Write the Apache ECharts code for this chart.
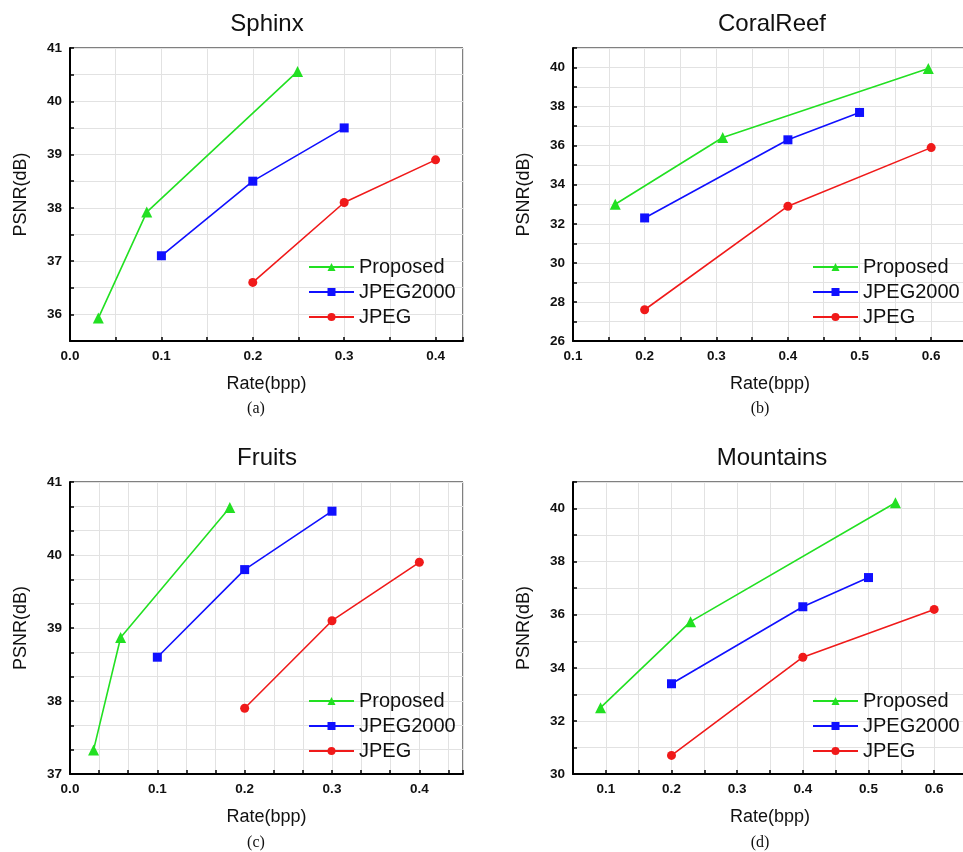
<!DOCTYPE html>
<html>
<head>
<meta charset="utf-8">
<script src="https://cdn.jsdelivr.net/npm/echarts@6/dist/echarts.min.js"></script>
<style>
html,body{margin:0;padding:0;background:#fff;}
#chart{width:963px;height:852px;}
</style>
</head>
<body>
<div id="chart"></div>
<script>
// ---- Data ----
const panelTitles = ['Sphinx', 'CoralReef', 'Fruits', 'Mountains'];
const panelCaptions = ['(a)', '(b)', '(c)', '(d)'];
const seriesNames = ['Proposed', 'JPEG2000', 'JPEG'];

const sphinxProposed = [[0.031, 35.93], [0.084, 37.92], [0.249, 40.56]];
const sphinxJPEG2000 = [[0.1, 37.1], [0.2, 38.5], [0.3, 39.5]];
const sphinxJPEG = [[0.2, 36.6], [0.3, 38.1], [0.4, 38.9]];

const coralProposed = [[0.159, 33.0], [0.309, 36.42], [0.596, 39.95]];
const coralJPEG2000 = [[0.2, 32.3], [0.4, 36.3], [0.5, 37.7]];
const coralJPEG = [[0.2, 27.6], [0.4, 32.9], [0.6, 35.9]];

const fruitsProposed = [[0.027, 37.33], [0.058, 38.87], [0.183, 40.65]];
const fruitsJPEG2000 = [[0.1, 38.6], [0.2, 39.8], [0.3, 40.6]];
const fruitsJPEG = [[0.2, 37.9], [0.3, 39.1], [0.4, 39.9]];

const mountainsProposed = [[0.092, 32.5], [0.229, 35.74], [0.541, 40.22]];
const mountainsJPEG2000 = [[0.2, 33.4], [0.4, 36.3], [0.5, 37.4]];
const mountainsJPEG = [[0.2, 30.7], [0.4, 34.4], [0.6, 36.2]];

// axis ranges: [min, max, gridStep, labelStep]
const xRanges = [[0, 0.43, 0.05, 0.1], [0.1, 0.65, 0.05, 0.1], [0, 0.45, 0.1 / 3, 0.1], [0.05, 0.65, 0.05, 0.1]];
const yRanges = [[35.5, 41, 0.5, 1], [26, 41, 1, 2], [37, 41, 1 / 3, 1], [30, 41, 1, 2]];

const panelData = [
  [sphinxProposed, sphinxJPEG2000, sphinxJPEG],
  [coralProposed, coralJPEG2000, coralJPEG],
  [fruitsProposed, fruitsJPEG2000, fruitsJPEG],
  [mountainsProposed, mountainsJPEG2000, mountainsJPEG]
];

// ---- Styles / layout ----
const colors = ['#22e022', '#1010ff', '#f01a1a'];
const symbols = ['triangle', 'rect', 'circle'];
const symbolSizes = [11, 9, 9];
const grids = [
  { left: 70, top: 48, width: 393, height: 293 },
  { left: 573, top: 48, width: 394, height: 293 },
  { left: 70, top: 482, width: 393, height: 292 },
  { left: 573, top: 482, width: 394, height: 292 }
];
const sans = '"Liberation Sans", Arial, sans-serif';
const serif = '"Liberation Serif", "Times New Roman", serif';

function isMult(v, m) {
  const r = v / m;
  return Math.abs(r - Math.round(r)) < 1e-6;
}

const option = {
  animation: false,
  backgroundColor: '#fff',
  grid: grids.map(g => Object.assign({
    show: true, borderColor: '#000', borderWidth: 1, backgroundColor: '#fff',
    containLabel: false, outerBoundsMode: 'none'
  }, g)),
  xAxis: xRanges.map((r, i) => ({
    type: 'value', gridIndex: i, min: r[0], max: r[1], interval: r[2],
    name: 'Rate(bpp)', nameLocation: 'middle', nameGap: 34,
    nameTextStyle: { fontFamily: sans, fontSize: 18, color: '#111' },
    axisLine: { show: true, onZero: false, lineStyle: { color: '#000', width: 2 } },
    axisTick: { show: true, inside: true, length: 4, lineStyle: { color: '#000', width: 1.5 } },
    axisLabel: {
      margin: 8, fontFamily: sans, fontSize: 13.5, fontWeight: 'bold', color: '#111',
      showMinLabel: true, showMaxLabel: true,
      formatter: v => isMult(v, r[3]) ? v.toFixed(1) : ''
    },
    splitLine: { show: true, lineStyle: { color: '#e2e2e2', width: 1 } }
  })),
  yAxis: yRanges.map((r, i) => ({
    type: 'value', gridIndex: i, min: r[0], max: r[1], interval: r[2],
    name: 'PSNR(dB)', nameLocation: 'middle', nameGap: 40, nameRotate: 90,
    nameTextStyle: { fontFamily: sans, fontSize: 18, color: '#111' },
    axisLine: { show: true, onZero: false, lineStyle: { color: '#000', width: 2 } },
    axisTick: { show: true, inside: true, length: 4, lineStyle: { color: '#000', width: 1.5 } },
    axisLabel: {
      margin: 8, fontFamily: sans, fontSize: 13.5, fontWeight: 'bold', color: '#111',
      showMinLabel: true, showMaxLabel: true,
      formatter: v => isMult(v, r[3]) ? String(Math.round(v)) : ''
    },
    splitLine: { show: true, lineStyle: { color: '#e2e2e2', width: 1 } }
  })),
  legend: grids.map((g, i) => ({
    orient: 'vertical',
    left: (i % 2 === 0) ? 308 : 812,
    top: (i < 2) ? 257 : 691,
    padding: 0,
    itemWidth: 45, itemHeight: 10, itemGap: 5,
    textStyle: { fontFamily: sans, fontSize: 20, color: '#111', lineHeight: 20 },
    data: seriesNames.map(n => ({ name: n + ' ' + i })),
    formatter: name => name.split(' ')[0],
    backgroundColor: 'transparent'
  })),
  series: [],
  graphic: []
};

panelData.forEach((sets, i) => {
  sets.forEach((d, k) => {
    option.series.push({
      type: 'line', name: seriesNames[k] + ' ' + i,
      xAxisIndex: i, yAxisIndex: i, data: d,
      symbol: symbols[k], symbolSize: symbolSizes[k],
      itemStyle: { color: colors[k] },
      lineStyle: { color: colors[k], width: 1.6 },
      clip: false
    });
  });
  const g = grids[i];
  option.graphic.push({
    type: 'text', x: (i % 2 === 0) ? 267 : 772, y: g.top - 24,
    style: { text: panelTitles[i], font: '24px ' + sans, fill: '#111', align: 'center', verticalAlign: 'middle', textAlign: 'center', textVerticalAlign: 'middle' }
  });
  option.graphic.push({
    type: 'text', x: (i % 2 === 0) ? 256 : 760, y: (i < 2) ? 409 : 843,
    style: { text: panelCaptions[i], font: '16px ' + serif, fill: '#111', align: 'center', verticalAlign: 'middle', textAlign: 'center', textVerticalAlign: 'middle' }
  });
});

const chart = echarts.init(document.getElementById('chart'), null, { renderer: 'canvas' });
chart.setOption(option);
</script>
</body>
</html>
